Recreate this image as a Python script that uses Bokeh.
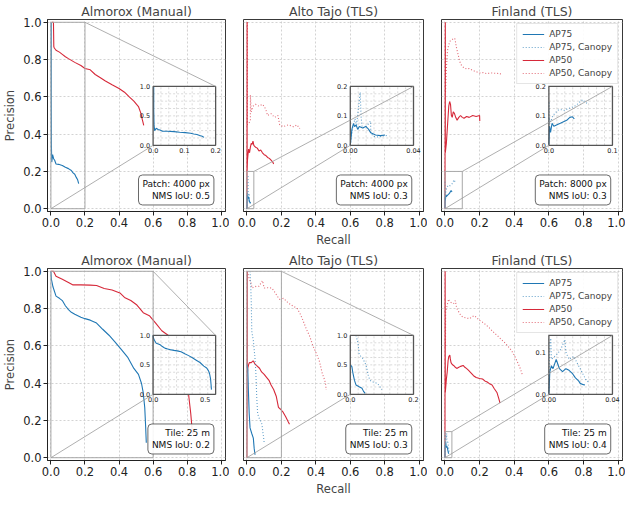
import numpy as np
from bokeh.plotting import figure
from bokeh.layouts import column, row
from bokeh.models import Range1d, FixedTicker, Label, Legend, LegendItem
from bokeh.core.properties import value
from bokeh.embed import file_html
from bokeh.resources import INLINE

# ------------------------------------------------------------------ data
TICKS = [0.0, 0.2, 0.4, 0.6, 0.8, 1.0]
TICK_LABELS = ["0.0", "0.2", "0.4", "0.6", "0.8", "1.0"]

TITLES = ["Almorox (Manual)", "Alto Tajo (TLS)", "Finland (TLS)",
          "Almorox (Manual)", "Alto Tajo (TLS)", "Finland (TLS)"]
BOX_TEXTS = ["Patch: 4000 px\nNMS IoU: 0.5", "Patch: 4000 px\nNMS IoU: 0.3",
             "Patch: 8000 px\nNMS IoU: 0.3", "Tile: 25 m\nNMS IoU: 0.2",
             "Tile: 25 m\nNMS IoU: 0.3", "Tile: 25 m\nNMS IoU: 0.4"]
SERIES_NAMES = ["AP75", "AP75, Canopy", "AP50", "AP50, Canopy"]

# Panel 1 - Almorox (Manual), patch
P1_AP75_X = [0.002, 0.002, 0.003, 0.005, 0.010, 0.016, 0.022, 0.030, 0.045, 0.067, 0.085, 0.103, 0.120, 0.130, 0.140, 0.149, 0.157, 0.163]
P1_AP75_Y = [1.000, 0.600, 0.338, 0.250, 0.290, 0.268, 0.260, 0.240, 0.238, 0.232, 0.222, 0.215, 0.205, 0.192, 0.185, 0.168, 0.155, 0.135]
P1_AP50_X = [0.005, 0.015, 0.017, 0.020, 0.030, 0.050, 0.067, 0.085, 0.103, 0.140, 0.176, 0.200, 0.231, 0.260, 0.286, 0.320, 0.359, 0.400, 0.432, 0.460, 0.487, 0.514, 0.529, 0.536, 0.545]
P1_AP50_Y = [1.000, 1.000, 0.870, 0.862, 0.850, 0.840, 0.828, 0.815, 0.805, 0.785, 0.768, 0.752, 0.745, 0.720, 0.705, 0.685, 0.665, 0.645, 0.625, 0.600, 0.577, 0.548, 0.510, 0.480, 0.447]

# Panel 2 - Alto Tajo (TLS), patch
P2_AP75_X = [0.0, 0.001, 0.002, 0.0027, 0.0037, 0.0047, 0.0057, 0.0078, 0.0098, 0.0115, 0.0129, 0.016, 0.019, 0.022]
P2_AP75_Y = [0.0, 0.054, 0.074, 0.064, 0.069, 0.054, 0.064, 0.059, 0.064, 0.055, 0.043, 0.035, 0.033, 0.035]
P2_AP75C_X = [0.0, 0.0015, 0.003, 0.004, 0.005, 0.0063, 0.0068, 0.0075, 0.009, 0.011, 0.0128, 0.0130, 0.015, 0.018, 0.021, 0.024]
P2_AP75C_Y = [0.0, 0.060, 0.090, 0.070, 0.120, 0.180, 0.100, 0.060, 0.060, 0.070, 0.082, 0.040, 0.030, 0.028, 0.032, 0.034]
P2_AP50_X = [0.0, 0.001, 0.001, 0.003, 0.006, 0.010, 0.015, 0.020, 0.025, 0.030, 0.035, 0.040, 0.045, 0.050, 0.060, 0.070, 0.080, 0.090, 0.100, 0.110, 0.120, 0.130, 0.140, 0.150, 0.155]
P2_AP50_Y = [0.0, 1.000, 0.200, 0.260, 0.290, 0.320, 0.300, 0.330, 0.350, 0.345, 0.362, 0.340, 0.335, 0.330, 0.325, 0.310, 0.315, 0.300, 0.290, 0.285, 0.275, 0.270, 0.260, 0.250, 0.240]
P2_AP50C_X = [0.003, 0.003, 0.020, 0.020, 0.025, 0.035, 0.050, 0.070, 0.090, 0.100, 0.110, 0.120, 0.140, 0.160, 0.180, 0.190, 0.210, 0.240, 0.270, 0.290, 0.307]
P2_AP50C_Y = [1.000, 0.450, 0.470, 0.610, 0.520, 0.550, 0.560, 0.550, 0.560, 0.550, 0.530, 0.500, 0.510, 0.490, 0.500, 0.450, 0.440, 0.450, 0.440, 0.450, 0.430]

# Panel 3 - Finland (TLS), patch
P3_AP75_X = [0.0, 0.001, 0.0026, 0.005, 0.0077, 0.0128, 0.018, 0.023, 0.028, 0.033, 0.037, 0.040]
P3_AP75_Y = [0.003, 0.065, 0.044, 0.075, 0.065, 0.070, 0.075, 0.080, 0.085, 0.095, 0.097, 0.090]
P3_AP75C_X = [0.0005, 0.0005, 0.001, 0.003, 0.006, 0.010, 0.015, 0.020, 0.025, 0.030, 0.035, 0.040, 0.045, 0.050, 0.053, 0.056, 0.060, 0.062]
P3_AP75C_Y = [0.145, 0.070, 0.090, 0.080, 0.100, 0.110, 0.120, 0.121, 0.118, 0.125, 0.128, 0.132, 0.140, 0.150, 0.155, 0.148, 0.143, 0.140]
P3_AP50_X = [0.0, 0.002, 0.002, 0.008, 0.015, 0.022, 0.027, 0.032, 0.037, 0.042, 0.048, 0.055, 0.062, 0.070, 0.080, 0.090, 0.100, 0.110, 0.125, 0.140, 0.160, 0.180, 0.200, 0.201]
P3_AP50_Y = [0.0, 1.000, 0.300, 0.350, 0.450, 0.550, 0.575, 0.560, 0.500, 0.490, 0.520, 0.510, 0.490, 0.475, 0.490, 0.500, 0.490, 0.485, 0.495, 0.490, 0.500, 0.495, 0.500, 0.470]
P3_AP50C_X = [0.003, 0.003, 0.008, 0.015, 0.022, 0.030, 0.040, 0.050, 0.058, 0.065, 0.075, 0.085, 0.095, 0.110, 0.125, 0.140, 0.160, 0.180, 0.200, 0.220, 0.240, 0.270, 0.300, 0.320, 0.322]
P3_AP50C_Y = [0.920, 0.620, 0.750, 0.850, 0.880, 0.900, 0.905, 0.915, 0.910, 0.870, 0.830, 0.790, 0.770, 0.755, 0.750, 0.752, 0.742, 0.735, 0.728, 0.730, 0.725, 0.728, 0.726, 0.725, 0.710]

# Panel 4 - Almorox (Manual), tile
P4_AP75_X = [0.0, 0.003, 0.012, 0.030, 0.050, 0.067, 0.085, 0.103, 0.120, 0.140, 0.176, 0.200, 0.231, 0.268, 0.304, 0.341, 0.377, 0.414, 0.450, 0.487, 0.514, 0.532, 0.542, 0.551, 0.556, 0.560]
P4_AP75_Y = [1.0, 0.957, 0.917, 0.867, 0.855, 0.843, 0.815, 0.794, 0.780, 0.770, 0.754, 0.746, 0.738, 0.722, 0.689, 0.657, 0.620, 0.580, 0.540, 0.479, 0.447, 0.398, 0.349, 0.268, 0.170, 0.080]
P4_AP50_X = [0.0, 0.015, 0.030, 0.067, 0.103, 0.130, 0.176, 0.230, 0.268, 0.313, 0.359, 0.405, 0.432, 0.469, 0.505, 0.542, 0.578, 0.615, 0.651, 0.688, 0.720, 0.760, 0.790, 0.808, 0.821, 0.830, 0.834]
P4_AP50_Y = [1.0, 1.0, 0.973, 0.957, 0.940, 0.927, 0.927, 0.926, 0.924, 0.908, 0.900, 0.884, 0.860, 0.843, 0.819, 0.778, 0.762, 0.722, 0.681, 0.657, 0.600, 0.520, 0.430, 0.342, 0.237, 0.140, 0.126]

# Panel 5 - Alto Tajo (TLS), tile
P5_AP75_X = [0.0, 0.005, 0.008, 0.013, 0.018, 0.028, 0.037, 0.042, 0.047]
P5_AP75_Y = [0.5, 0.470, 0.370, 0.240, 0.160, 0.130, 0.105, 0.050, 0.016]
P5_AP75C_X = [0.018, 0.022, 0.025, 0.028, 0.033, 0.037, 0.042, 0.047, 0.052, 0.057, 0.062, 0.067, 0.072, 0.080, 0.087, 0.092, 0.097, 0.100]
P5_AP75C_Y = [1.000, 0.920, 0.840, 0.680, 0.650, 0.630, 0.580, 0.530, 0.450, 0.320, 0.240, 0.220, 0.210, 0.195, 0.180, 0.140, 0.105, 0.080]
P5_AP50_X = [0.0, 0.002, 0.002, 0.005, 0.010, 0.014, 0.025, 0.036, 0.045, 0.055, 0.073, 0.085, 0.100, 0.115, 0.128, 0.140, 0.155, 0.170, 0.183, 0.195, 0.210, 0.225, 0.238, 0.247]
P5_AP50_Y = [0.0, 1.000, 0.450, 0.480, 0.500, 0.510, 0.510, 0.520, 0.505, 0.495, 0.480, 0.460, 0.447, 0.430, 0.415, 0.390, 0.366, 0.330, 0.270, 0.260, 0.244, 0.220, 0.196, 0.180]
P5_AP50C_X = [0.003, 0.005, 0.010, 0.015, 0.022, 0.030, 0.040, 0.055, 0.070, 0.080, 0.090, 0.095, 0.100, 0.120, 0.145, 0.160, 0.180, 0.190, 0.200, 0.210, 0.218, 0.235, 0.255, 0.275, 0.292, 0.310, 0.328, 0.345, 0.365, 0.383, 0.400, 0.420, 0.438, 0.450, 0.456, 0.460]
P5_AP50C_Y = [1.000, 0.990, 0.970, 0.955, 0.944, 0.910, 0.915, 0.920, 0.920, 0.935, 0.950, 0.930, 0.910, 0.912, 0.910, 0.890, 0.862, 0.850, 0.838, 0.855, 0.850, 0.835, 0.820, 0.810, 0.800, 0.770, 0.730, 0.690, 0.650, 0.600, 0.565, 0.520, 0.450, 0.420, 0.400, 0.363]

# Panel 6 - Finland (TLS), tile
P6_AP75_X = [0.0, 0.0006, 0.0016, 0.0026, 0.0046, 0.0056, 0.0066, 0.0086, 0.0107, 0.0127, 0.0147, 0.0167, 0.0187, 0.0197, 0.0217, 0.0227]
P6_AP75_Y = [0.003, 0.054, 0.068, 0.061, 0.083, 0.072, 0.061, 0.054, 0.061, 0.057, 0.050, 0.039, 0.032, 0.026, 0.023, 0.022]
P6_AP75C_X = [0.0, 0.0006, 0.0012, 0.0016, 0.0036, 0.0056, 0.0076, 0.0096, 0.0100, 0.0107, 0.0127, 0.0157, 0.0177, 0.0197, 0.0217, 0.0237, 0.0257]
P6_AP75C_Y = [0.0, 0.126, 0.133, 0.083, 0.090, 0.097, 0.108, 0.126, 0.130, 0.100, 0.083, 0.090, 0.075, 0.061, 0.046, 0.032, 0.028]
P6_AP50_X = [0.0, 0.001, 0.002, 0.008, 0.013, 0.018, 0.022, 0.028, 0.031, 0.035, 0.042, 0.050, 0.060, 0.068, 0.080, 0.090, 0.105, 0.115, 0.124, 0.135, 0.150, 0.165, 0.180, 0.200, 0.217, 0.230, 0.244, 0.260, 0.272, 0.285, 0.300, 0.310, 0.318]
P6_AP50_Y = [0.0, 1.000, 0.350, 0.420, 0.460, 0.520, 0.542, 0.550, 0.530, 0.510, 0.500, 0.495, 0.485, 0.479, 0.485, 0.490, 0.495, 0.485, 0.479, 0.470, 0.455, 0.440, 0.430, 0.425, 0.422, 0.412, 0.406, 0.395, 0.390, 0.370, 0.350, 0.320, 0.293]
P6_AP50C_X = [0.003, 0.004, 0.008, 0.013, 0.018, 0.022, 0.026, 0.031, 0.040, 0.050, 0.055, 0.060, 0.064, 0.068, 0.078, 0.087, 0.095, 0.105, 0.120, 0.142, 0.155, 0.170, 0.185, 0.198, 0.215, 0.235, 0.255, 0.272, 0.290, 0.309, 0.328, 0.346, 0.365, 0.383, 0.400, 0.420, 0.430, 0.438, 0.445, 0.448]
P6_AP50C_Y = [0.600, 0.786, 0.800, 0.819, 0.840, 0.851, 0.840, 0.835, 0.830, 0.827, 0.835, 0.843, 0.820, 0.802, 0.785, 0.770, 0.760, 0.754, 0.750, 0.746, 0.755, 0.762, 0.750, 0.738, 0.728, 0.714, 0.698, 0.681, 0.665, 0.649, 0.632, 0.616, 0.596, 0.576, 0.550, 0.510, 0.490, 0.470, 0.450, 0.438]

# Zoom windows (data ranges shown in each inset) and inset tick labels
ZOOM_X = [[0.0, 0.2], [0.0, 0.04], [0.0, 0.1], [0.0, 0.6], [0.0, 0.2], [0.0, 0.04]]
ZOOM_Y = [[0.0, 1.0], [0.0, 0.2], [0.0, 0.2], [0.0, 1.0], [0.0, 1.0], [0.0, 0.14]]
INSET_XT = [[0.0, 0.1, 0.2], [0.0, 0.04], [0.0, 0.1], [0.0, 0.5], [0.0, 0.2], [0.0, 0.04]]
INSET_XL = [["0.0", "0.1", "0.2"], ["0.00", "0.04"], ["0.0", "0.1"], ["0.0", "0.5"], ["0.0", "0.2"], ["0.00", "0.04"]]
INSET_YT = [[0.0, 0.5, 1.0], [0.0, 0.1, 0.2], [0.0, 0.1, 0.2], [0.0, 0.5, 1.0], [0.0, 0.5, 1.0], [0.0, 0.1]]
INSET_YL = [["0.0", "0.5", "1.0"], ["0.0", "0.1", "0.2"], ["0.0", "0.1", "0.2"], ["0.0", "0.5", "1.0"], ["0.0", "0.5", "1.0"], ["0.0", "0.1"]]

PANEL_SERIES = [
    [(P1_AP75_X, P1_AP75_Y, 0), (P1_AP50_X, P1_AP50_Y, 2)],
    [(P2_AP50C_X, P2_AP50C_Y, 3), (P2_AP50_X, P2_AP50_Y, 2), (P2_AP75C_X, P2_AP75C_Y, 1), (P2_AP75_X, P2_AP75_Y, 0)],
    [(P3_AP50C_X, P3_AP50C_Y, 3), (P3_AP50_X, P3_AP50_Y, 2), (P3_AP75C_X, P3_AP75C_Y, 1), (P3_AP75_X, P3_AP75_Y, 0)],
    [(P4_AP75_X, P4_AP75_Y, 0), (P4_AP50_X, P4_AP50_Y, 2)],
    [(P5_AP50C_X, P5_AP50C_Y, 3), (P5_AP50_X, P5_AP50_Y, 2), (P5_AP75C_X, P5_AP75C_Y, 1), (P5_AP75_X, P5_AP75_Y, 0)],
    [(P6_AP50C_X, P6_AP50C_Y, 3), (P6_AP50_X, P6_AP50_Y, 2), (P6_AP75C_X, P6_AP75C_Y, 1), (P6_AP75_X, P6_AP75_Y, 0)],
]

# ------------------------------------------------------------------ style
FONT = "DejaVu Sans"
BLUE = "#1f77b4"
RED = "#d62839"
STYLES = [
    dict(line_color=BLUE, line_dash="solid", line_alpha=1.0),
    dict(line_color=BLUE, line_dash="1 2", line_alpha=0.7),
    dict(line_color=RED, line_dash="solid", line_alpha=1.0),
    dict(line_color=RED, line_dash="1 2", line_alpha=0.7),
]
XLIM = (-0.02, 1.025)
YLIM = (-0.015, 1.015)
INSET_X = (0.60, 0.967)   # inset placement in parent axis units
INSET_Y = (0.34, 0.656)

FW = 180
TOP, BOTTOM = 18, 35
FH = 196


def make_panel(i):
    col = i % 3
    left = 45 if col == 0 else 14
    p = figure(width=left + FW + 4, height=TOP + FH + BOTTOM,
               output_backend="svg", toolbar_location=None,
               x_range=Range1d(*XLIM), y_range=Range1d(*YLIM),
               min_border_left=left, min_border_right=4 if col < 2 else 3,
               min_border_top=TOP, min_border_bottom=BOTTOM,
               title=TITLES[i])
    p.title.text_font = FONT
    p.title.text_font_size = "12.5px"
    p.title.text_font_style = "normal"
    p.title.align = "center"
    p.title.standoff = 2
    p.background_fill_color = "white"
    p.border_fill_color = "white"
    p.outline_line_color = "#222222"
    p.outline_line_width = 0.9

    for ax in (p.xaxis, p.yaxis):
        ax.ticker = FixedTicker(ticks=TICKS)
        ax.major_label_overrides = dict(zip(TICKS, TICK_LABELS))
        ax.major_label_text_font = FONT
        ax.major_label_text_font_size = "11.5px"
        ax.major_label_text_color = "#222222"
        ax.major_tick_in = 0
        ax.major_tick_out = 4
        ax.major_tick_line_color = "#222222"
        ax.minor_tick_line_color = None
        ax.axis_line_color = "#222222"
        ax.major_label_standoff = 2
        ax.axis_label_text_font = FONT
        ax.axis_label_text_font_size = "11.5px"
        ax.axis_label_text_font_style = "normal"
        ax.axis_label_standoff = 3
    if col == 0:
        p.yaxis.axis_label = "Precision"
    else:
        p.yaxis.visible = False
    if col == 1:
        p.xaxis.axis_label = "Recall"
    p.xgrid.ticker = FixedTicker(ticks=TICKS)
    p.ygrid.ticker = FixedTicker(ticks=TICKS)
    p.grid.grid_line_color = "#c8c8c8"
    p.grid.grid_line_dash = "2 2"
    p.grid.grid_line_width = 0.8

    renderers = {}
    for xs, ys, k in PANEL_SERIES[i]:
        renderers[k] = p.line(xs, ys, line_width=1.1, **STYLES[k])

    zx0, zx1 = ZOOM_X[i]
    zy0, zy1 = ZOOM_Y[i]
    # zoom rectangle in the parent axes
    p.quad(left=[zx0], right=[zx1], bottom=[zy0], top=[zy1], fill_color=None,
           line_color="#a8a8a8", line_width=1)

    # inset ranges mapped onto a sub-region of the frame
    kx = (INSET_X[1] - INSET_X[0]) / (zx1 - zx0)
    ky = (INSET_Y[1] - INSET_Y[0]) / (zy1 - zy0)
    p.extra_x_ranges = {"ix": Range1d(zx0 + (XLIM[0] - INSET_X[0]) / kx,
                                      zx0 + (XLIM[1] - INSET_X[0]) / kx)}
    p.extra_y_ranges = {"iy": Range1d(zy0 + (YLIM[0] - INSET_Y[0]) / ky,
                                      zy0 + (YLIM[1] - INSET_Y[0]) / ky)}
    kw = dict(x_range_name="ix", y_range_name="iy")
    p.quad(left=[zx0], right=[zx1], bottom=[zy0], top=[zy1],
           fill_color="white", line_color=None, **kw)
    gx = np.linspace(zx0, zx1, 9)[1:-1]
    gy = np.linspace(zy0, zy1, 9)[1:-1]
    p.segment(x0=gx, y0=zy0, x1=gx, y1=zy1, line_color="#cccccc",
              line_dash="2 2", line_width=0.7, **kw)
    p.segment(x0=zx0, y0=gy, x1=zx1, y1=gy, line_color="#cccccc",
              line_dash="2 2", line_width=0.7, **kw)
    for xs, ys, k in PANEL_SERIES[i]:
        if k in (0, 1):
            p.line(xs, ys, line_width=1.1, **STYLES[k], **kw)
    p.quad(left=[zx0], right=[zx1], bottom=[zy0], top=[zy1], fill_color=None,
           line_color="#555555", line_width=1.3, **kw)
    # inset tick labels
    p.text(x=INSET_XT[i], y=zy0, text=INSET_XL[i], text_align="center",
           text_baseline="top", y_offset=3, text_font=value(FONT),
           text_font_size=value("6.5px"), text_color="#222222", **kw)
    p.text(x=zx0, y=INSET_YT[i], text=INSET_YL[i], text_align="right",
           text_baseline="middle", x_offset=-3, text_font=value(FONT),
           text_font_size=value("6.5px"), text_color="#222222", **kw)

    # connector lines (drawn on top, like indicate_inset_zoom)
    p.segment(x0=[zx1, zx0], y0=[zy1, zy0], x1=[INSET_X[1], INSET_X[0]],
              y1=[INSET_Y[1], INSET_Y[0]], line_color="#9a9a9a", line_width=0.8)

    p.add_layout(Label(x=0.957, y=0.02, text=BOX_TEXTS[i], text_align="right",
                       text_baseline="bottom", text_font=FONT,
                       text_font_size="9px", text_color="#111111",
                       background_fill_color="white", background_fill_alpha=0.9,
                       border_line_color="#444444", border_line_width=0.8,
                       padding=4, border_radius=4))

    if col == 2:
        items = [LegendItem(label=SERIES_NAMES[k], renderers=[renderers[k]])
                 for k in range(4) if k in renderers]
        leg = Legend(items=items, location="top_right",
                     label_text_font=FONT, label_text_font_size="9px",
                     glyph_width=22, glyph_height=10, label_height=10,
                     spacing=3, padding=5, margin=4,
                     border_line_color="#cccccc", background_fill_alpha=0.9)
        p.add_layout(leg)
    return p


panels = [make_panel(i) for i in range(6)]
layout = column(row(*panels[:3], spacing=0), row(*panels[3:], spacing=0), spacing=0)
open("out.html", "w").write(file_html(layout, INLINE))
